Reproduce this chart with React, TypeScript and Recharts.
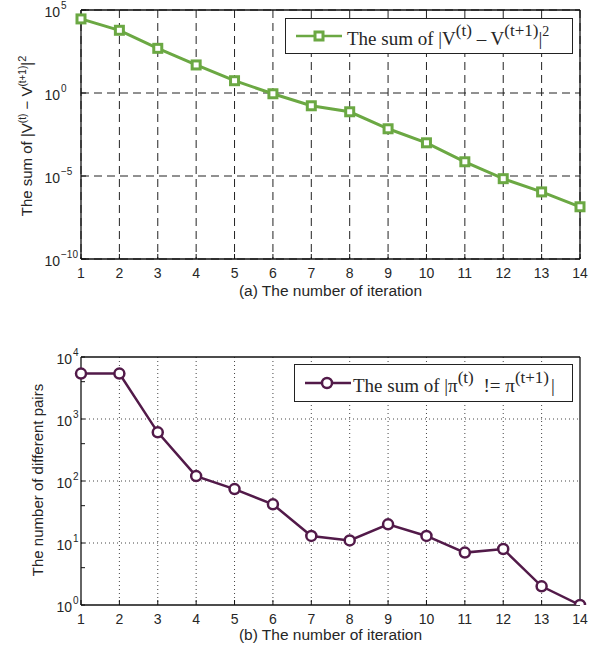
import React from "react";
import { LineChart, Line, XAxis, YAxis, CartesianGrid } from "recharts";

// iteration index (x axis of both panels)
const iterations = [1, 2, 3, 4, 5, 6, 7, 8, 9, 10, 11, 12, 13, 14];
// (a) sum of |V(t) - V(t+1)|^2
const valueChange = [
  2.9e4, 6e3, 490, 49, 5.5, 0.9, 0.17, 0.074, 7e-3, 1e-3, 7.2e-5, 6.9e-6, 1.1e-6,
  1.4e-7,
];
// (b) number of differing policy pairs
const policyChange = [5400, 5400, 610, 120, 74, 42, 13, 11, 20, 13, 7, 8, 2, 1];

const topYTicks = [1e-10, 1e-5, 1, 1e5];
const bottomYMajor = [1, 10, 100, 1000, 10000];
const mantissas = [2, 3, 4, 5, 6, 7, 8, 9];
const bottomYMinor = [1, 10, 100, 1000].flatMap((d) => mantissas.map((m) => m * d));
const bottomYTicks = [...bottomYMajor, ...bottomYMinor].sort((a, b) => a - b);

const GREEN = "#6ba843";
const PURPLE = "#521a49";
const SANS = "'Liberation Sans', Arial, Helvetica, sans-serif";
const SERIF = "'Liberation Serif', 'Times New Roman', serif";
const TEXT = "#262626";

const topData = iterations.map((it, i) => ({ it, v: valueChange[i] }));
const bottomData = iterations.map((it, i) => ({ it, v: policyChange[i] }));

function LogTick({ x, y, payload, gap }: any) {
  const lg = Math.log10(payload.value);
  const exp = Math.round(lg);
  if (Math.abs(lg - exp) > 1e-6) return <g />;
  const baseEnd = x - gap;
  return (
    <g fill={TEXT} fontFamily={SANS}>
      <text x={baseEnd} y={y + 7} textAnchor="end" fontSize={14}>
        10
      </text>
      <text x={baseEnd + 1} y={y - 1} textAnchor="start" fontSize={10}>
        {exp < 0 ? "\u2212" + Math.abs(exp) : exp}
      </text>
    </g>
  );
}

function IterTick({ x, y, payload }: any) {
  return (
    <text x={x} y={y + 19} textAnchor="middle" fontSize={14} fill={TEXT} fontFamily={SANS}>
      {payload.value}
    </text>
  );
}

function SquareDot({ cx, cy, index }: any) {
  return (
    <rect
      key={index}
      x={cx - 4}
      y={cy - 4}
      width={8}
      height={8}
      fill="#fff"
      stroke={GREEN}
      strokeWidth={3}
    />
  );
}

function CircleDot({ cx, cy, index }: any) {
  return <circle key={index} cx={cx} cy={cy} r={5} fill="#fff" stroke={PURPLE} strokeWidth={2.5} />;
}

function Legend({
  left,
  top,
  height,
  marker,
  color,
  textShift = 0,
  children,
}: {
  left: number;
  top: number;
  height: number;
  marker: "square" | "circle";
  color: string;
  textShift?: number;
  children: React.ReactNode;
}) {
  return (
    <div
      style={{
        position: "absolute",
        left,
        top,
        width: 573 - left,
        height,
        boxSizing: "border-box",
        border: "1.3px solid #222",
        background: "#fff",
        display: "flex",
        alignItems: "center",
        fontFamily: SERIF,
        fontSize: 19,
        color: TEXT,
        whiteSpace: "nowrap",
      }}
    >
      <svg width={56} height={20} style={{ marginLeft: 8, flex: "none" }}>
        <line x1={2} y1={10} x2={48} y2={10} stroke={color} strokeWidth={2.5} />
        {marker === "square" ? (
          <rect x={21} y={6} width={8} height={8} fill="#fff" stroke={color} strokeWidth={3} />
        ) : (
          <circle cx={24} cy={10} r={5} fill="#fff" stroke={color} strokeWidth={2.5} />
        )}
      </svg>
      <span style={{ marginLeft: -3 + textShift, marginTop: 6 }}>{children}</span>
    </div>
  );
}

const sup: React.CSSProperties = { fontSize: 17, verticalAlign: 9, lineHeight: 0 };
const supSmall: React.CSSProperties = { fontSize: 14, verticalAlign: 9, lineHeight: 0 };

export default function App() {
  return (
    <div style={{ position: "absolute", left: 0, top: 0, width: 598, height: 649, background: "#fff" }}>
      {/* (a) value change per iteration */}
      <div style={{ position: "absolute", left: 0, top: 0 }}>
        <LineChart width={598} height={305} data={topData} margin={{ top: 9, right: 17, bottom: 0, left: 0 }}>
          <CartesianGrid stroke="#222" strokeDasharray="8 5" strokeWidth={1} />
          <XAxis
            dataKey="it"
            type="number"
            domain={[1, 14]}
            ticks={iterations}
            height={46}
            tickSize={-5}
            tickMargin={5}
            tick={IterTick}
            axisLine={{ stroke: "#111", strokeWidth: 1.3 }}
            tickLine={{ stroke: "#111" }}
            label={{
              content: () => (
                <text x={330.5} y={296} textAnchor="middle" fontSize={15.5} fill={TEXT} fontFamily={SANS}>
                  (a) The number of iteration
                </text>
              ),
            }}
          />
          <XAxis
            xAxisId="top"
            orientation="top"
            type="number"
            domain={[1, 14]}
            ticks={iterations}
            height={1}
            tick={false}
            tickSize={-5}
            axisLine={{ stroke: "#111", strokeWidth: 1.3 }}
            tickLine={{ stroke: "#111" }}
          />
          <YAxis
            scale="log"
            type="number"
            domain={[1e-10, 1e5]}
            allowDataOverflow
            ticks={topYTicks}
            width={81}
            tickSize={-5}
            tickMargin={5}
            tick={(p: any) => <LogTick {...p} gap={21} />}
            axisLine={{ stroke: "#111", strokeWidth: 1.3 }}
            tickLine={{ stroke: "#111" }}
            label={{
              content: () => (
                <text
                  transform="translate(32,136) rotate(-90)"
                  textAnchor="middle"
                  fontSize={15}
                  fill={TEXT}
                  fontFamily={SANS}
                >
                  The sum of |V<tspan dy={-6} fontSize={10}>(t)</tspan>
                  <tspan dy={6}> − V</tspan>
                  <tspan dy={-6} fontSize={10}>(t+1)</tspan>
                  <tspan dy={6}>|</tspan>
                  <tspan dy={-6} fontSize={11}>2</tspan>
                </text>
              ),
            }}
          />
          <YAxis
            yAxisId="right"
            orientation="right"
            scale="log"
            type="number"
            domain={[1e-10, 1e5]}
            allowDataOverflow
            ticks={topYTicks}
            width={1}
            tick={false}
            tickSize={-5}
            axisLine={{ stroke: "#111", strokeWidth: 1.3 }}
            tickLine={{ stroke: "#111" }}
          />
          <Line
            type="linear"
            dataKey="v"
            stroke={GREEN}
            strokeWidth={3}
            dot={SquareDot}
            isAnimationActive={false}
          />
        </LineChart>
        <Legend left={285} top={18} height={36} marker="square" color={GREEN}>
          The sum of |V<span style={sup}>(t)</span> – V<span style={sup}>(t+1)</span>|<span style={supSmall}>2</span>
        </Legend>
      </div>

      {/* (b) policy change per iteration */}
      <div style={{ position: "absolute", left: 0, top: 340 }}>
        <LineChart width={598} height={309} data={bottomData} margin={{ top: 16, right: 17, bottom: 0, left: 0 }}>
          <CartesianGrid
            stroke="#444"
            strokeDasharray="1 3"
            strokeWidth={1}
            horizontalValues={[10, 100, 1000]}
            verticalValues={iterations.slice(1, -1)}
          />
          <XAxis
            dataKey="it"
            type="number"
            domain={[1, 14]}
            ticks={iterations}
            height={44}
            tickSize={-5}
            tickMargin={5}
            tick={IterTick}
            axisLine={{ stroke: "#111", strokeWidth: 1.3 }}
            tickLine={{ stroke: "#111" }}
            label={{
              content: () => (
                <text x={330.5} y={300} textAnchor="middle" fontSize={15.5} fill={TEXT} fontFamily={SANS}>
                  (b) The number of iteration
                </text>
              ),
            }}
          />
          <XAxis
            xAxisId="top"
            orientation="top"
            type="number"
            domain={[1, 14]}
            ticks={iterations}
            height={1}
            tick={false}
            tickSize={-5}
            axisLine={{ stroke: "#111", strokeWidth: 1.3 }}
            tickLine={{ stroke: "#111" }}
          />
          <YAxis
            scale="log"
            type="number"
            domain={[1, 10000]}
            allowDataOverflow
            ticks={bottomYTicks}
            width={81}
            tickSize={-4}
            tickMargin={4}
            tick={(p: any) => <LogTick {...p} gap={9} />}
            axisLine={{ stroke: "#111", strokeWidth: 1.3 }}
            tickLine={{ stroke: "#111" }}
            label={{
              content: () => (
                <text
                  transform="translate(43,140) rotate(-90)"
                  textAnchor="middle"
                  fontSize={15}
                  fill={TEXT}
                  fontFamily={SANS}
                >
                  The number of different pairs
                </text>
              ),
            }}
          />
          <YAxis
            yAxisId="right"
            orientation="right"
            scale="log"
            type="number"
            domain={[1, 10000]}
            allowDataOverflow
            ticks={bottomYTicks}
            width={1}
            tick={false}
            tickSize={-4}
            axisLine={{ stroke: "#111", strokeWidth: 1.3 }}
            tickLine={{ stroke: "#111" }}
          />
          <Line
            type="linear"
            dataKey="v"
            stroke={PURPLE}
            strokeWidth={2.5}
            dot={CircleDot}
            isAnimationActive={false}
          />
        </LineChart>
        <Legend left={294} top={24} height={38} marker="circle" color={PURPLE} textShift={-3}>
          The sum of |π<span style={sup}>(t)</span>
          <span style={{ marginLeft: 5 }}> != </span>π<span style={sup}>(t+1)</span>
          <span style={{ marginLeft: 2 }}>|</span>
        </Legend>
      </div>
    </div>
  );
}
